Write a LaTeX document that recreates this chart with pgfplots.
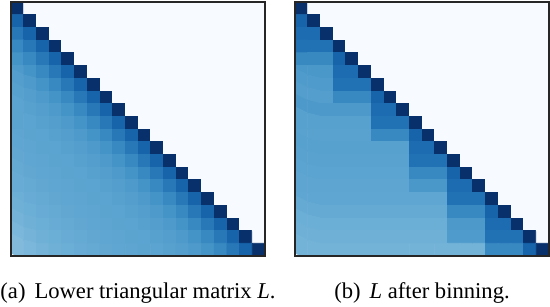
\documentclass[border=0pt]{standalone}
\usepackage{fontspec}
\setmainfont{Liberation Serif}
\usepackage{pgfplots}
\usepackage{pgfplotstable}
\pgfplotsset{compat=1.18}
\pgfplotsset{colormap={mplblues}{rgb255=(247,251,255) rgb255=(222,235,247) rgb255=(198,219,239) rgb255=(158,202,225) rgb255=(107,174,214) rgb255=(66,146,198) rgb255=(33,113,181) rgb255=(8,81,156) rgb255=(8,48,107)}}

% (a) lower triangular matrix L, row by row (20 values per row)
\pgfplotstableread[row sep=\\]{
c\\
1\\ 0\\0\\0\\0\\0\\ 0\\0\\0\\0\\0\\ 0\\0\\0\\0\\0\\ 0\\0\\0\\0\\
0.80\\1\\ 0\\0\\0\\0\\0\\ 0\\0\\0\\0\\0\\ 0\\0\\0\\0\\0\\ 0\\0\\0\\
0.725\\0.80\\1\\ 0\\0\\0\\0\\0\\ 0\\0\\0\\0\\0\\ 0\\0\\0\\0\\0\\ 0\\0\\
0.665\\0.725\\0.80\\1\\ 0\\0\\0\\0\\0\\ 0\\0\\0\\0\\0\\ 0\\0\\0\\0\\0\\ 0\\
0.615\\0.665\\0.725\\0.80\\1\\ 0\\0\\0\\0\\0\\ 0\\0\\0\\0\\0\\ 0\\0\\0\\0\\0\\
0.59\\0.615\\0.665\\0.725\\0.80\\1\\ 0\\0\\0\\0\\0\\ 0\\0\\0\\0\\0\\ 0\\0\\0\\0\\
0.57\\0.59\\0.615\\0.665\\0.725\\0.80\\1\\ 0\\0\\0\\0\\0\\ 0\\0\\0\\0\\0\\ 0\\0\\0\\
0.56\\0.57\\0.59\\0.615\\0.665\\0.725\\0.80\\1\\ 0\\0\\0\\0\\0\\ 0\\0\\0\\0\\0\\ 0\\0\\
0.55\\0.56\\0.57\\0.59\\0.615\\0.665\\0.725\\0.80\\1\\ 0\\0\\0\\0\\0\\ 0\\0\\0\\0\\0\\ 0\\
0.545\\0.55\\0.56\\0.57\\0.59\\0.615\\0.665\\0.725\\0.80\\1\\ 0\\0\\0\\0\\0\\ 0\\0\\0\\0\\0\\
0.54\\0.545\\0.55\\0.56\\0.57\\0.59\\0.615\\0.665\\0.725\\0.80\\1\\ 0\\0\\0\\0\\0\\ 0\\0\\0\\0\\
0.535\\0.54\\0.545\\0.55\\0.56\\0.57\\0.59\\0.615\\0.665\\0.725\\0.80\\1\\ 0\\0\\0\\0\\0\\ 0\\0\\0\\
0.53\\0.535\\0.54\\0.545\\0.55\\0.56\\0.57\\0.59\\0.615\\0.665\\0.725\\0.80\\1\\ 0\\0\\0\\0\\0\\ 0\\0\\
0.52\\0.53\\0.535\\0.54\\0.545\\0.55\\0.56\\0.57\\0.59\\0.615\\0.665\\0.725\\0.80\\1\\ 0\\0\\0\\0\\0\\ 0\\
0.51\\0.52\\0.53\\0.535\\0.54\\0.545\\0.55\\0.56\\0.57\\0.59\\0.615\\0.665\\0.725\\0.80\\1\\ 0\\0\\0\\0\\0\\
0.50\\0.51\\0.52\\0.53\\0.535\\0.54\\0.545\\0.55\\0.56\\0.57\\0.59\\0.615\\0.665\\0.725\\0.80\\1\\ 0\\0\\0\\0\\
0.49\\0.50\\0.51\\0.52\\0.53\\0.535\\0.54\\0.545\\0.55\\0.56\\0.57\\0.59\\0.615\\0.665\\0.725\\0.80\\1\\ 0\\0\\0\\
0.475\\0.49\\0.50\\0.51\\0.52\\0.53\\0.535\\0.54\\0.545\\0.55\\0.56\\0.57\\0.59\\0.615\\0.665\\0.725\\0.80\\1\\ 0\\0\\
0.46\\0.475\\0.49\\0.50\\0.51\\0.52\\0.53\\0.535\\0.54\\0.545\\0.55\\0.56\\0.57\\0.59\\0.615\\0.665\\0.725\\0.80\\1\\ 0\\
0.445\\0.46\\0.475\\0.49\\0.50\\0.51\\0.52\\0.53\\0.535\\0.54\\0.545\\0.55\\0.56\\0.57\\0.59\\0.615\\0.665\\0.725\\0.80\\1\\
}\Lmat

% (b) L after binning
\pgfplotstableread[row sep=\\]{
c\\
1\\ 0\\0\\0\\0\\0\\ 0\\0\\0\\0\\0\\ 0\\0\\0\\0\\0\\ 0\\0\\0\\0\\
0.80\\1\\ 0\\0\\0\\0\\0\\ 0\\0\\0\\0\\0\\ 0\\0\\0\\0\\0\\ 0\\0\\0\\
0.77\\0.77\\1\\ 0\\0\\0\\0\\0\\ 0\\0\\0\\0\\0\\ 0\\0\\0\\0\\0\\ 0\\0\\
0.75\\0.75\\0.75\\1\\ 0\\0\\0\\0\\0\\ 0\\0\\0\\0\\0\\ 0\\0\\0\\0\\0\\ 0\\
0.66\\0.66\\0.66\\0.80\\1\\ 0\\0\\0\\0\\0\\ 0\\0\\0\\0\\0\\ 0\\0\\0\\0\\0\\
0.60\\0.60\\0.60\\0.77\\0.77\\1\\ 0\\0\\0\\0\\0\\ 0\\0\\0\\0\\0\\ 0\\0\\0\\0\\
0.585\\0.585\\0.585\\0.75\\0.75\\0.75\\1\\ 0\\0\\0\\0\\0\\ 0\\0\\0\\0\\0\\ 0\\0\\0\\
0.57\\0.57\\0.57\\0.665\\0.665\\0.665\\0.80\\1\\ 0\\0\\0\\0\\0\\ 0\\0\\0\\0\\0\\ 0\\0\\
0.595\\0.595\\0.595\\0.595\\0.595\\0.595\\0.77\\0.77\\1\\ 0\\0\\0\\0\\0\\ 0\\0\\0\\0\\0\\ 0\\
0.56\\0.56\\0.56\\0.56\\0.56\\0.56\\0.75\\0.75\\0.75\\1\\ 0\\0\\0\\0\\0\\ 0\\0\\0\\0\\0\\
0.555\\0.555\\0.555\\0.555\\0.555\\0.555\\0.665\\0.665\\0.665\\0.80\\1\\ 0\\0\\0\\0\\0\\ 0\\0\\0\\0\\
0.56\\0.56\\0.56\\0.56\\0.56\\0.56\\0.56\\0.56\\0.56\\0.77\\0.77\\1\\ 0\\0\\0\\0\\0\\ 0\\0\\0\\
0.555\\0.555\\0.555\\0.555\\0.555\\0.555\\0.555\\0.555\\0.555\\0.75\\0.75\\0.75\\1\\ 0\\0\\0\\0\\0\\ 0\\0\\
0.55\\0.55\\0.55\\0.55\\0.55\\0.55\\0.55\\0.55\\0.55\\0.665\\0.665\\0.665\\0.80\\1\\ 0\\0\\0\\0\\0\\ 0\\
0.54\\0.54\\0.54\\0.54\\0.54\\0.54\\0.54\\0.54\\0.54\\0.60\\0.60\\0.60\\0.77\\0.77\\1\\ 0\\0\\0\\0\\0\\
0.535\\0.535\\0.535\\0.535\\0.535\\0.535\\0.535\\0.535\\0.535\\0.535\\0.535\\0.535\\0.75\\0.75\\0.75\\1\\ 0\\0\\0\\0\\
0.52\\0.52\\0.52\\0.52\\0.52\\0.52\\0.52\\0.52\\0.52\\0.52\\0.52\\0.52\\0.665\\0.665\\0.665\\0.80\\1\\ 0\\0\\0\\
0.50\\0.50\\0.50\\0.50\\0.50\\0.50\\0.50\\0.50\\0.50\\0.50\\0.50\\0.50\\0.595\\0.595\\0.595\\0.77\\0.77\\1\\ 0\\0\\
0.49\\0.49\\0.49\\0.49\\0.49\\0.49\\0.49\\0.49\\0.49\\0.49\\0.49\\0.49\\0.585\\0.585\\0.585\\0.75\\0.75\\0.75\\1\\ 0\\
0.48\\0.48\\0.48\\0.48\\0.48\\0.48\\0.48\\0.48\\0.48\\0.48\\0.48\\0.48\\0.48\\0.48\\0.48\\0.665\\0.665\\0.665\\0.80\\1\\
}\Bmat

\pgfplotsset{mat/.style={
  width=127pt, height=127pt, scale only axis, anchor=south west,
  xmin=-0.5, xmax=19.5, ymin=-0.5, ymax=19.5, y dir=reverse,
  xtick=\empty, ytick=\empty, axis on top,
  colormap name=mplblues, point meta min=0, point meta max=1,
  axis line style={black!85, line width=0.75pt},
}}

\begin{document}
\begin{tikzpicture}
\useasboundingbox (0,0) rectangle (275pt,153pt);
\begin{axis}[mat, at={(5.5pt,25pt)}]
\addplot[matrix plot*, mesh/cols=20, point meta=explicit]
  table[x index=0, y index=0, x expr={mod(\coordindex,20)}, y expr={floor(\coordindex/20)}, meta index=0]{\Lmat};
\end{axis}
\begin{axis}[mat, at={(147.5pt,25pt)}]
\addplot[matrix plot*, mesh/cols=20, point meta=explicit]
  table[x index=0, y index=0, x expr={mod(\coordindex,20)}, y expr={floor(\coordindex/20)}, meta index=0]{\Bmat};
\end{axis}
\node[anchor=base, font=\rmfamily\fontsize{11.3}{13}\selectfont] at (69pt,4pt) {(a)\hspace{0.4em}Lower triangular matrix \textit{L}.};
\node[anchor=base, font=\rmfamily\fontsize{11.3}{13}\selectfont] at (211pt,4pt) {(b)\hspace{0.4em}\textit{L} after binning.};
\end{tikzpicture}
\end{document}
